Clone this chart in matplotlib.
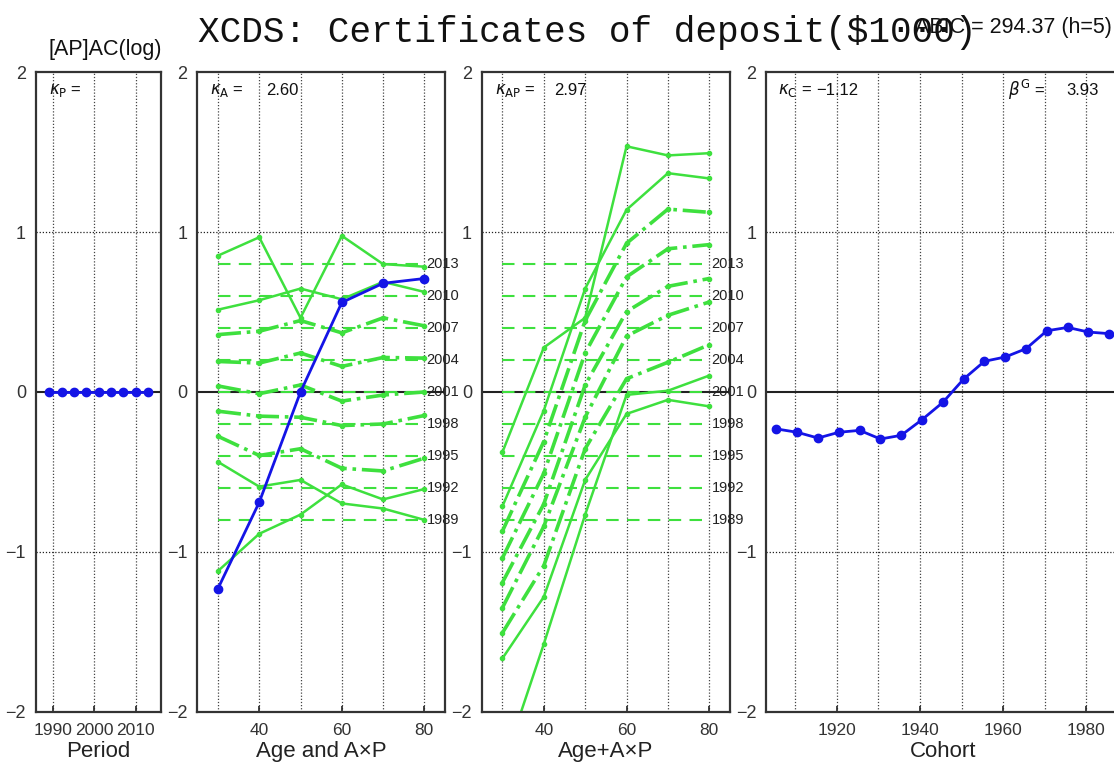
import matplotlib
matplotlib.use("Agg")
import matplotlib.pyplot as plt
import numpy as np

plt.rcParams['font.family'] = ['Liberation Sans', 'DejaVu Sans']
plt.rcParams['axes.unicode_minus'] = True

# ---- data ----
period = [1989, 1992, 1995, 1998, 2001, 2004, 2007, 2010, 2013]
period_effect = [0, 0, 0, 0, 0, 0, 0, 0, 0]
period_offset = [-0.8, -0.6, -0.4, -0.2, 0.0, 0.2, 0.4, 0.6, 0.8]

age = [30, 40, 50, 60, 70, 80]
age_effect = [-1.23, -0.69, 0.0, 0.56, 0.68, 0.71]

# A x P interaction per period, shifted by the period offset (rows follow `period`)
ap_lines = [
    [-1.12, -0.887, -0.767, -0.578, -0.672, -0.607],
    [-0.437, -0.592, -0.55, -0.697, -0.729, -0.80],
    [-0.277, -0.397, -0.355, -0.477, -0.494, -0.414],
    [-0.12, -0.151, -0.158, -0.21, -0.20, -0.147],
    [0.038, -0.011, 0.044, -0.057, -0.019, 0.0],
    [0.191, 0.181, 0.244, 0.16, 0.216, 0.212],
    [0.359, 0.38, 0.447, 0.37, 0.464, 0.414],
    [0.515, 0.574, 0.647, 0.58, 0.689, 0.626],
    [0.853, 0.968, 0.464, 0.977, 0.80, 0.784],
]
ap_styles = ['-', '-', '-.', '-.', '-.', '-.', '-.', '-', '-']

cohort = [1905.5, 1910.5, 1915.5, 1920.5, 1925.5, 1930.5, 1935.5, 1940.5, 1945.5,
          1950.5, 1955.5, 1960.5, 1965.5, 1970.5, 1975.5, 1980.5, 1985.5]
cohort_effect = [-0.231, -0.252, -0.288, -0.252, -0.240, -0.294, -0.271, -0.173, -0.065,
                 0.081, 0.192, 0.219, 0.271, 0.383, 0.404, 0.375, 0.365]

kappa = {'P': '', 'A': '2.60', 'AP': '2.97', 'C': '\u22121.12'}
beta_g = '3.93'
abic = 294.37
h = 5

GREEN = '#3ee03e'
BLUE = '#1414e6'
W, H = 1114, 763

fig = plt.figure(figsize=(W / 100, H / 100), dpi=100)
bot = 51.3 / H
hgt = 639.4 / H
ax1 = fig.add_axes([35.7 / W, bot, 125 / W, hgt])
ax2 = fig.add_axes([197.3 / W, bot, 247.7 / W, hgt])
ax3 = fig.add_axes([481.7 / W, bot, 248.3 / W, hgt])
ax4 = fig.add_axes([766 / W, bot, 362 / W, hgt])


def frame(ax, xlim, ticks, grid, xlabel, label_x=None):
    ax.set_xlim(*xlim)
    ax.set_ylim(-2, 2)
    ax.set_yticks([-2, -1, 0, 1, 2])
    ax.set_xticks(ticks)
    ax.tick_params(axis='x', direction='in', length=4, width=1.2, pad=8,
                   labelsize=12.5, colors='#222', labelcolor='#333')
    ax.tick_params(axis='y', length=0, pad=7, labelsize=13, labelcolor='#333')
    for s in ax.spines.values():
        s.set_linewidth(1.6)
        s.set_color('#333')
    for g in grid:
        ax.axvline(g, color='#444', lw=0.9, ls=(0, (1, 1.5)), zorder=0.5)
    for yv in (-1, 1):
        ax.axhline(yv, color='#222', lw=0.9, ls=(0, (1, 1.5)), zorder=0.5)
    ax.axhline(0, color='#222', lw=1.5, zorder=1)
    ax.set_xlabel(xlabel, fontsize=16, color='#222', va='center')
    ax.xaxis.set_label_coords(0.5 if label_x is None else label_x, -40 / 639.4)


def label_at(ax, px, s, **kw):
    wpx = ax.get_position().width * W
    ax.text(px / wpx, 1 - 18 / 639.4, s, transform=ax.transAxes, va='center',
            ha='left', fontsize=12, color='#111', **kw)


# Period panel
frame(ax1, (1985.7, 2016.1), [1990, 2000, 2010], [1990, 2000, 2010], 'Period')
ax1.plot(period, period_effect, color=BLUE, lw=2, marker='o', ms=6, zorder=3)
label_at(ax1, 13, r'$\kappa_{\rm P}$ =')

# Age and A x P panel
frame(ax2, (25, 85), [40, 60, 80], [30, 40, 50, 60, 70, 80], 'Age and A\u00d7P')
# Age + A x P panel
frame(ax3, (25, 85), [40, 60, 80], [30, 40, 50, 60, 70, 80], 'Age+A\u00d7P')

for p, off, vals, st in zip(period, period_offset, ap_lines, ap_styles):
    lw = 2.6 if st == '-.' else 1.8
    summed = np.array(vals) + np.array(age_effect)
    for ax, ys in ((ax2, vals), (ax3, summed)):
        ax.plot([age[0], age[-1]], [off, off], color=GREEN, lw=1.5,
                ls=(0, (6, 4)), zorder=2)
        ax.plot(age, ys, color=GREEN, lw=lw, ls=st, marker='o', ms=3, zorder=2.5)
        ax.text(age[-1] + 0.5, off, str(p), fontsize=10.5, color='#222',
                va='center', ha='left', clip_on=False, zorder=4)

ax2.plot(age, age_effect, color=BLUE, lw=2, marker='o', ms=6, zorder=3)
label_at(ax2, 13, r'$\kappa_{\rm A}$ =')
label_at(ax2, 69, kappa['A'])
label_at(ax3, 13, r'$\kappa_{\rm AP}$ =')
label_at(ax3, 72, kappa['AP'])

# Cohort panel
frame(ax4, (1903, 1990), [1920, 1940, 1960, 1980],
      [1910, 1920, 1930, 1940, 1950, 1960, 1970, 1980], 'Cohort',
      label_x=(943 - 766) / 362)
ax4.plot(cohort, cohort_effect, color=BLUE, lw=2, marker='o', ms=6, zorder=3)
label_at(ax4, 12, r'$\kappa_{\rm C}$ =')
label_at(ax4, 50, kappa['C'])
label_at(ax4, 242, r'$\beta^{\rm G}$ =')
label_at(ax4, 300, beta_g)

fig.text(0.527, 0.958, 'XCDS: Certificates of deposit($1000)', ha='center', va='center',
         fontsize=26, family='Liberation Mono', color='#111')
fig.text(105 / W, 1 - 50 / H, '[AP]AC(log)', ha='center', va='center', fontsize=15.5,
         color='#111')
fig.text(1112 / W, 1 - 28 / H, 'ABIC = %.2f (h=%d)' % (abic, h), ha='right', va='center',
         fontsize=15.5, color='#111')

fig.savefig('out.png', dpi=100)
